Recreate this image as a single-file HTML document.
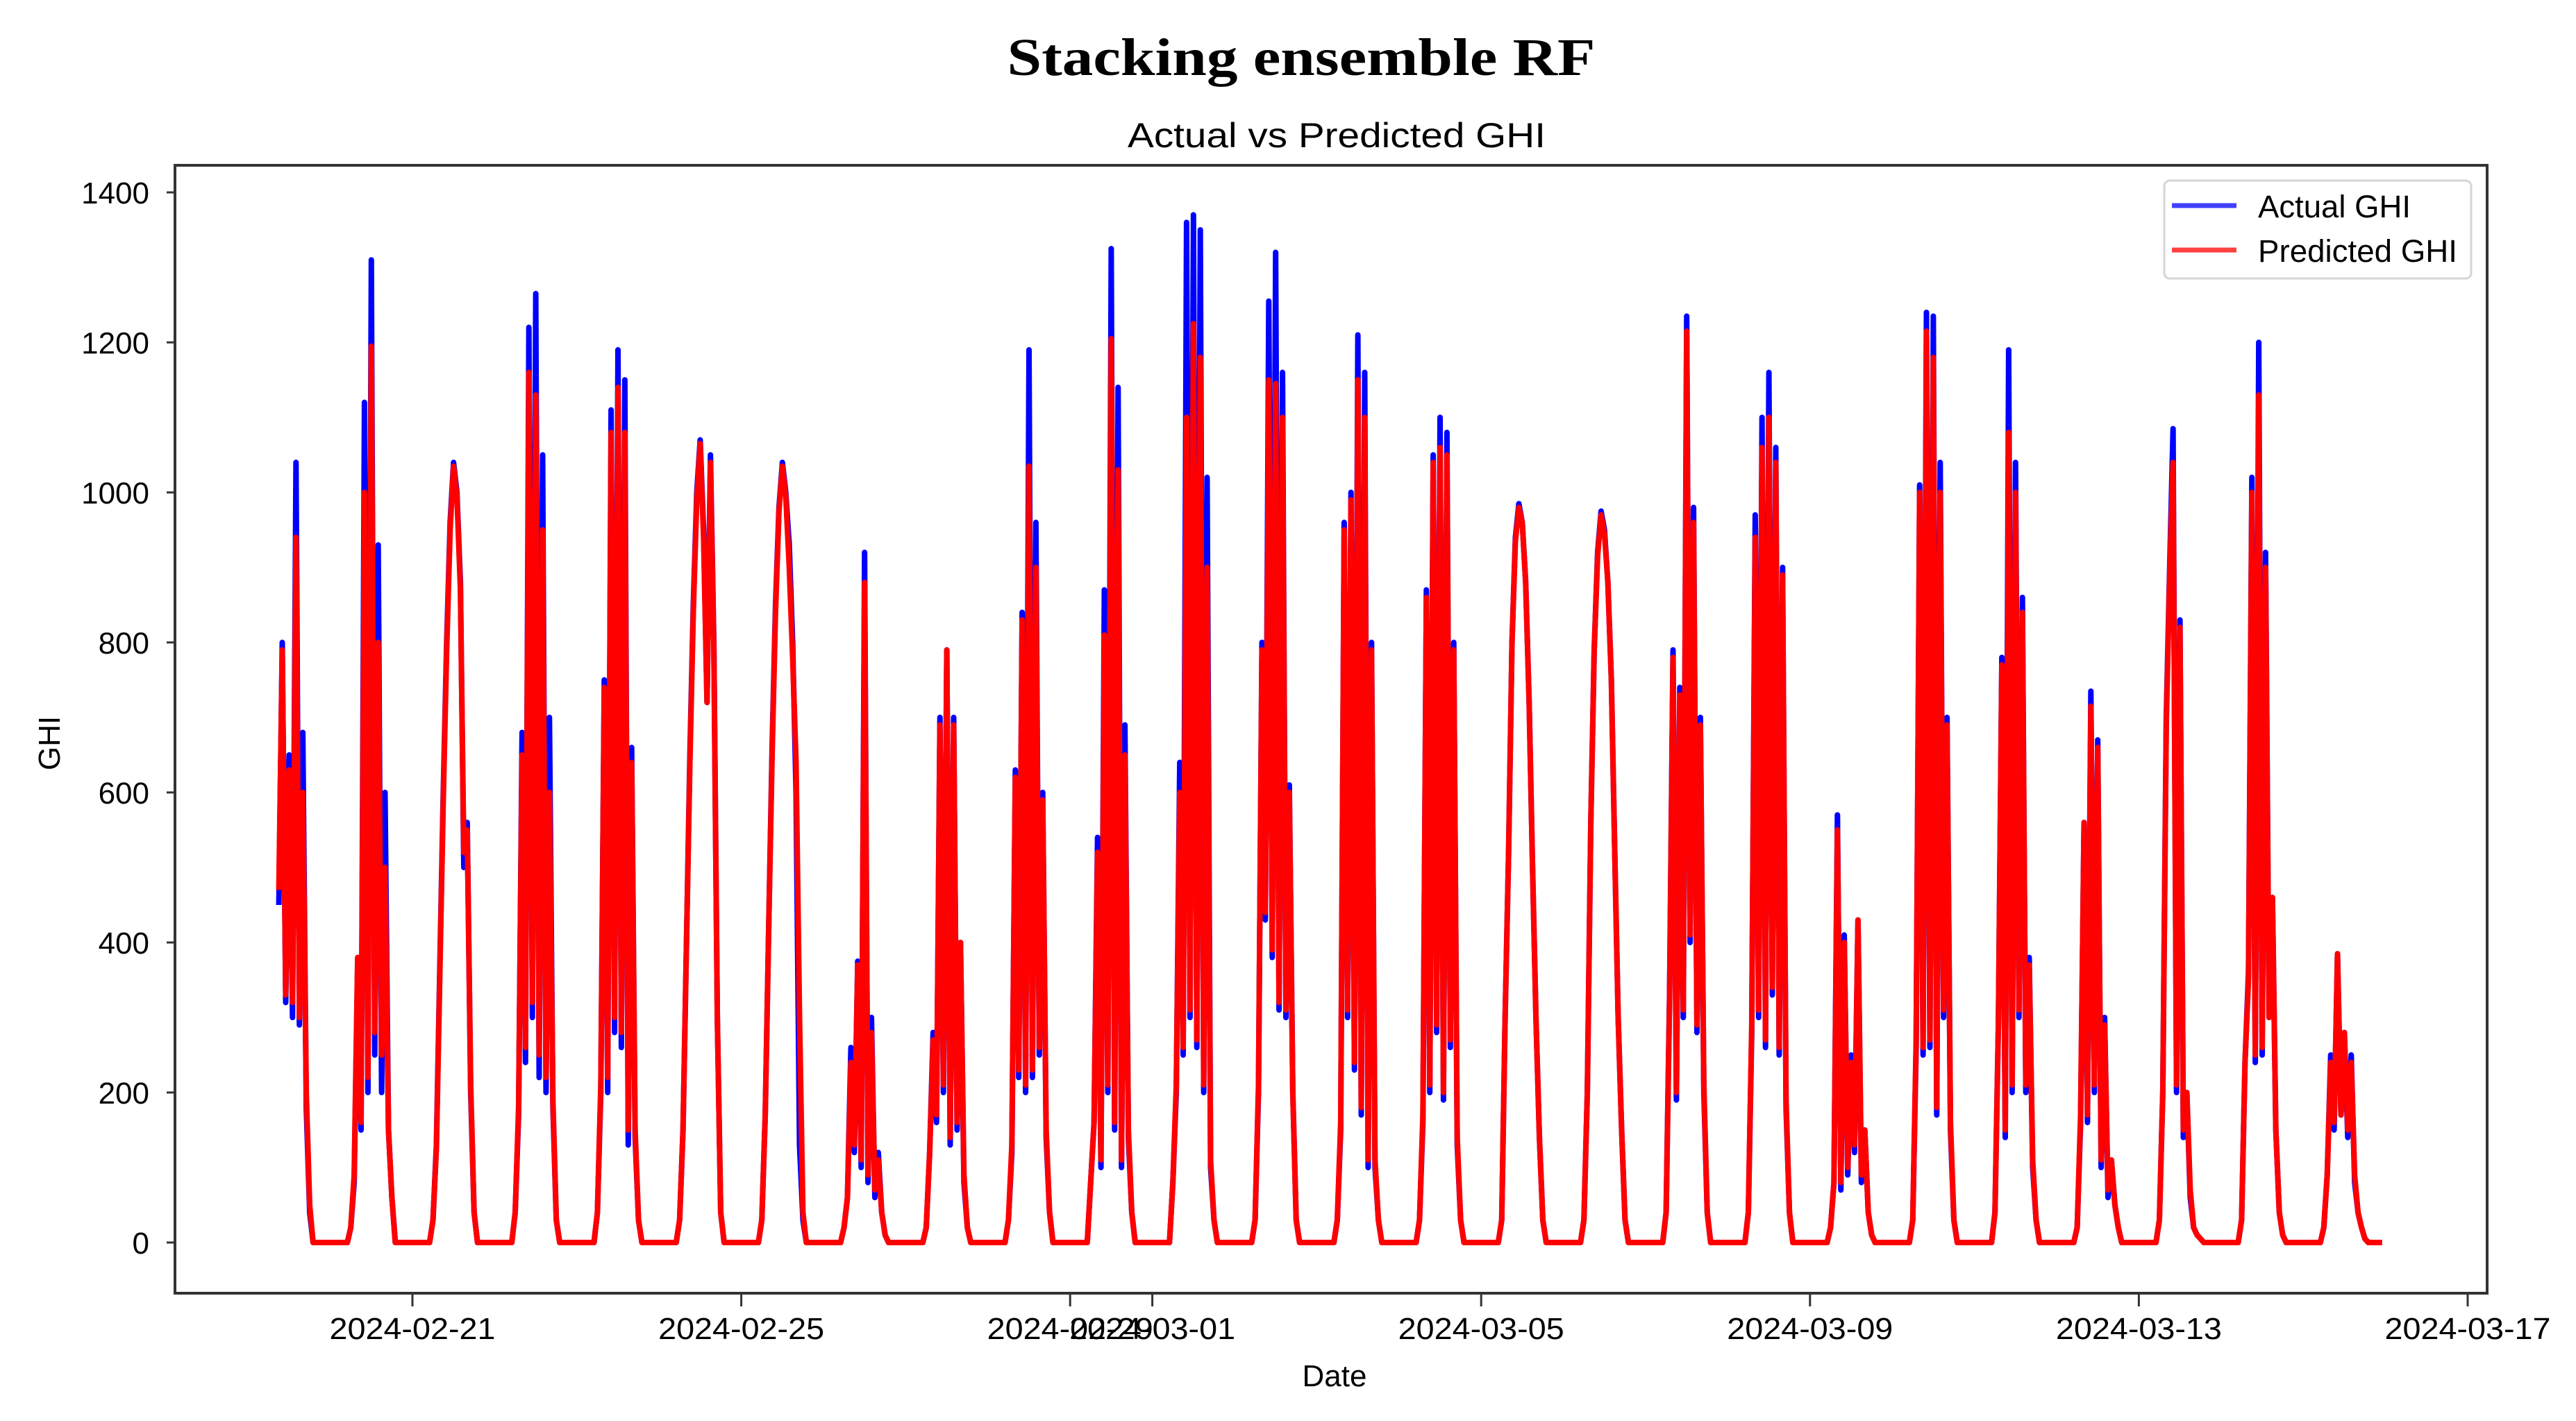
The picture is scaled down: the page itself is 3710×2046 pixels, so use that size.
<!DOCTYPE html>
<html><head><meta charset="utf-8"><style>
html,body{margin:0;padding:0;background:#fff;}
svg{display:block;}
text{font-family:"Liberation Sans","DejaVu Sans",sans-serif;fill:#000;}
</style></head><body>
<svg id="chart" width="3710" height="2046" viewBox="0 0 3710 2046" xmlns="http://www.w3.org/2000/svg">
<rect x="0" y="0" width="3710" height="2046" fill="#fff"/>
<text x="1874" y="108" text-anchor="middle" font-size="76" font-weight="bold" textLength="847" lengthAdjust="spacingAndGlyphs" style="font-family:'Liberation Serif',serif">Stacking ensemble RF</text>
<text x="1925" y="212" text-anchor="middle" font-size="50" textLength="602" lengthAdjust="spacingAndGlyphs">Actual vs Predicted GHI</text>
<g id="series"></g>
<rect x="252" y="238" width="3330" height="1624" fill="none" stroke="#333" stroke-width="4"/>
<g id="yticks"></g>
<g id="xticks"></g>
<text x="0" y="0" transform="translate(86,1070) rotate(-90)" text-anchor="middle" font-size="44">GHI</text>
<text x="1922" y="1996" text-anchor="middle" font-size="44">Date</text>
<g>
<rect x="3117" y="260" width="442" height="141" rx="8" fill="#fff" fill-opacity="0.8" stroke="#d6d6d6" stroke-width="3"/>
<line x1="3128" y1="296" x2="3221" y2="296" stroke="#4040ff" stroke-width="7"/>
<text x="3252" y="313" font-size="45" textLength="220" lengthAdjust="spacingAndGlyphs">Actual GHI</text>
<line x1="3128" y1="360" x2="3221" y2="360" stroke="#ff4040" stroke-width="7"/>
<text x="3252" y="377" font-size="45" textLength="287" lengthAdjust="spacingAndGlyphs">Predicted GHI</text>
</g>
</svg>
<script>
// Days starting 2024-02-19 (index 0); hourly daytime values for hours 6..18
const dayLabels = ["02-19","02-20","02-21","02-22","02-23","02-24","02-25","02-26","02-27","02-28","02-29","03-01","03-02","03-03","03-04","03-05","03-06","03-07","03-08","03-09","03-10","03-11","03-12","03-13","03-14","03-15"];
const dayHours = [6,7,8,9,10,11,12,13,14,15,16,17,18];
const nightValue = 0;
const firstHour = 9;
const lastHour = 23;
const actualGHI = [
[null,null,null,450,800,320,650,300,1040,290,680,180,40],
[20,80,370,150,1120,200,1310,250,930,200,600,150,60],
[30,130,370,600,800,960,1040,1000,880,500,560,200,40],
[40,170,680,240,1220,300,1265,220,1050,200,700,180,30],
[40,200,750,200,1110,280,1190,260,1150,130,660,140,30],
[30,150,400,650,850,1000,1070,950,720,1050,800,300,40],
[30,170,420,660,850,980,1040,1000,930,800,600,130,30],
[20,60,260,120,375,100,920,80,300,60,120,40,10],
[20,120,280,160,700,200,790,130,700,150,400,80,20],
[30,120,630,220,840,200,1190,220,960,250,600,140,40],
[80,160,540,100,870,200,1325,150,1140,100,690,140,40],
[80,200,640,250,1360,300,1370,260,1350,200,1020,100,30],
[30,200,800,430,1255,380,1320,310,1160,300,610,200,30],
[30,150,960,300,1000,230,1210,170,1160,100,800,100,30],
[30,160,870,200,1050,280,1100,190,1080,260,800,130,30],
[30,300,520,800,940,985,960,880,720,500,300,140,30],
[30,200,560,790,920,975,950,880,750,520,300,150,30],
[40,330,790,190,740,300,1235,400,980,280,700,200,40],
[40,280,970,300,1100,260,1160,330,1060,250,900,180,40],
[20,80,570,70,410,90,250,120,430,80,150,40,10],
[30,260,1010,250,1240,260,1235,170,1040,300,700,150,30],
[40,290,780,140,1190,200,1040,300,860,200,380,100,30],
[20,160,560,160,735,200,670,100,300,60,110,50,20],
[30,200,700,900,1085,200,830,140,200,60,20,10,5],
[30,240,360,1020,240,1200,250,920,300,460,150,40,10],
[20,90,250,150,385,170,280,140,250,80,40,20,5]
];
const predictedGHI = [
[null,null,null,470,790,330,630,320,940,300,600,200,50],
[20,90,380,160,1000,220,1195,280,800,250,500,150,60],
[30,125,360,590,790,950,1035,995,870,520,550,210,40],
[40,180,650,260,1160,320,1130,250,950,220,600,190,30],
[40,210,740,220,1080,300,1140,280,1080,150,640,150,30],
[30,150,400,640,840,990,1065,940,720,1040,790,300,40],
[30,170,420,650,840,975,1035,995,900,780,640,300,40],
[20,60,240,130,370,110,880,90,280,70,110,40,10],
[20,120,270,170,690,210,790,140,690,160,400,90,20],
[30,130,620,230,830,210,1035,230,900,260,590,150,40],
[80,160,520,110,810,210,1205,160,1030,110,650,150,40],
[80,210,600,260,1100,310,1225,270,1180,210,900,110,30],
[30,210,790,440,1150,390,1145,320,1100,310,600,200,30],
[30,160,950,310,990,240,1150,180,1100,110,790,110,30],
[30,170,860,210,1040,290,1060,200,1050,270,790,140,30],
[30,300,520,800,935,980,960,880,720,500,300,140,30],
[30,200,560,790,915,970,945,880,750,520,300,150,30],
[40,320,780,200,730,310,1215,410,960,290,690,210,40],
[40,290,940,310,1060,270,1100,340,1040,260,890,190,40],
[20,80,550,80,400,100,240,130,430,90,150,40,10],
[30,270,1000,260,1215,270,1180,180,1000,310,690,160,30],
[40,290,770,150,1080,210,1000,310,840,210,370,110,30],
[20,170,560,170,715,210,660,110,290,70,110,50,20],
[30,200,690,890,1040,210,820,150,200,70,20,10,5],
[30,240,350,1000,250,1130,260,900,300,460,150,40,10],
[20,90,240,160,385,170,280,150,240,90,40,20,5]
];
const yTicks = [0,200,400,600,800,1000,1200,1400];
const xTickLabels = ["2024-02-21","2024-02-25","2024-02-29","2024-03-01","2024-03-05","2024-03-09","2024-03-13","2024-03-17"];
const xTickDays = [2,6,10,11,15,19,23,27]; // days after 2024-02-19

const NS = "http://www.w3.org/2000/svg";
function xScale(day){ return 594 + (day - 2) * 118.4; }
function yScale(v){ return 1789 - v * 1.08; }

function buildPoints(arr){
  const pts = [];
  for (let k = 0; k < arr.length; k++) {
    const start = k === 0 ? firstHour : 0;
    for (let h = start; h <= 23; h++) {
      if (k === arr.length - 1 && h > lastHour) break;
      const idx = dayHours.indexOf(h);
      let v = idx >= 0 ? arr[k][idx] : nightValue;
      if (v === null) continue;
      pts.push(xScale(k + h / 24).toFixed(1) + "," + yScale(v).toFixed(1));
    }
  }
  return pts.join(" ");
}
const g = document.getElementById("series");
const pa = document.createElementNS(NS, "polyline");
pa.setAttribute("points", buildPoints(actualGHI));
pa.setAttribute("fill", "none"); pa.setAttribute("stroke", "#0000ff");
pa.setAttribute("stroke-width", "8"); pa.setAttribute("stroke-linejoin", "round");


g.appendChild(pa);
const pp = document.createElementNS(NS, "polyline");
pp.setAttribute("points", buildPoints(predictedGHI));
pp.setAttribute("fill", "none"); pp.setAttribute("stroke", "#ff0000");
pp.setAttribute("stroke-width", "8"); pp.setAttribute("stroke-linejoin", "round");


g.appendChild(pp);

const yg = document.getElementById("yticks");
yTicks.forEach(v => {
  const y = yScale(v);
  const l = document.createElementNS(NS, "line");
  l.setAttribute("x1", 240); l.setAttribute("x2", 252);
  l.setAttribute("y1", y); l.setAttribute("y2", y);
  l.setAttribute("stroke", "#333"); l.setAttribute("stroke-width", "3");
  
  
  yg.appendChild(l);
  const t = document.createElementNS(NS, "text");
  t.setAttribute("x", 215); t.setAttribute("y", y + 16);
  t.setAttribute("text-anchor", "end"); t.setAttribute("font-size", "44");
  t.textContent = String(v);
  
  
  yg.appendChild(t);
});
const xg = document.getElementById("xticks");
xTickDays.forEach((d, i) => {
  const x = xScale(d);
  const l = document.createElementNS(NS, "line");
  l.setAttribute("x1", x); l.setAttribute("x2", x);
  l.setAttribute("y1", 1862); l.setAttribute("y2", 1881);
  l.setAttribute("stroke", "#333"); l.setAttribute("stroke-width", "3");
  
  
  xg.appendChild(l);
  const t = document.createElementNS(NS, "text");
  t.setAttribute("x", x); t.setAttribute("y", 1928);
  t.setAttribute("text-anchor", "middle"); t.setAttribute("font-size", "44");
  t.setAttribute("textLength", "239"); t.setAttribute("lengthAdjust", "spacingAndGlyphs");
  t.textContent = xTickLabels[i];
  
  
  xg.appendChild(t);
});
</script>
</body></html>
